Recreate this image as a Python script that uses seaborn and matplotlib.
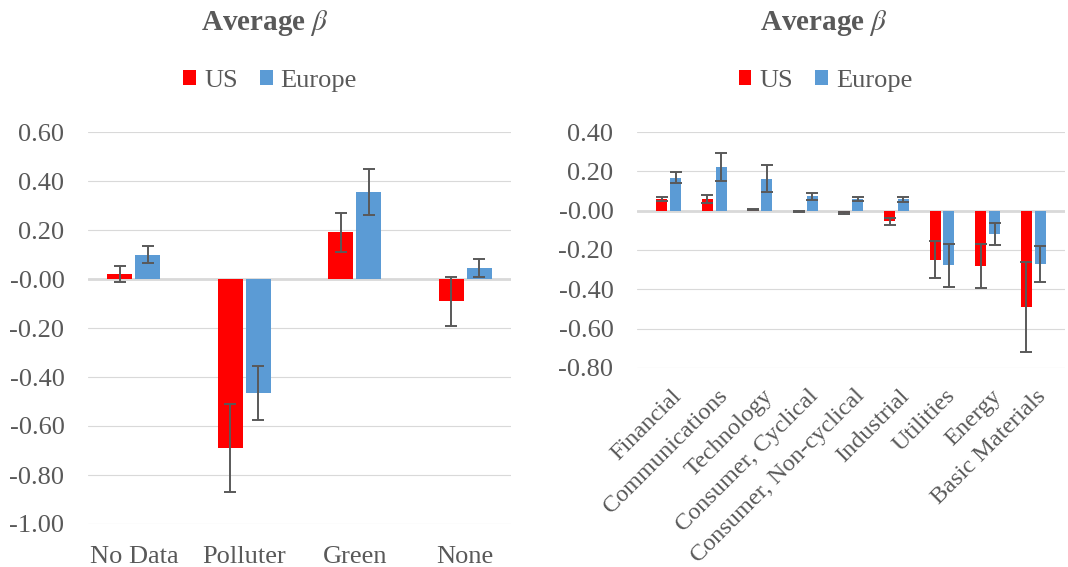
import numpy as np
import pandas as pd
import matplotlib
matplotlib.use("Agg")
import matplotlib.pyplot as plt
import matplotlib.transforms as mtransforms
from matplotlib.ticker import FormatStrFormatter
import seaborn as sns

# ---------------- data ----------------
groups = ["No Data", "Polluter", "Green", "None"]
us_groups = [0.02, -0.69, 0.19, -0.09]
us_groups_err = [0.032, 0.18, 0.078, 0.10]
eu_groups = [0.10, -0.465, 0.355, 0.045]
eu_groups_err = [0.035, 0.11, 0.094, 0.035]

sectors = ["Financial", "Communications", "Technology", "Consumer, Cyclical",
           "Consumer, Non-cyclical", "Industrial", "Utilities", "Energy",
           "Basic Materials"]
us_sectors = [0.06, 0.06, 0.004, -0.004, -0.012, -0.055, -0.25, -0.282, -0.489]
us_sectors_err = [0.012, 0.021, 0.002, 0.002, 0.003, 0.016, 0.094, 0.112, 0.23]
eu_sectors = [0.168, 0.224, 0.163, 0.073, 0.06, 0.057, -0.277, -0.12, -0.271]
eu_sectors_err = [0.027, 0.071, 0.07, 0.019, 0.012, 0.013, 0.11, 0.057, 0.09]

regions = ["US", "Europe"]
colors = {"US": "#FF0000", "Europe": "#5B9BD5"}
title_text = "Average $\\beta$"

# ---------------- style ----------------
sns.set_theme(style="white")
plt.rcParams["font.family"] = ["Liberation Serif", "DejaVu Serif"]
plt.rcParams["mathtext.fontset"] = "stix"
plt.rcParams["axes.unicode_minus"] = False
TXT = "#595959"
GRID = "#D9D9D9"

fig = plt.figure(figsize=(10.68, 5.67), dpi=100)
ax1 = fig.add_axes([88 / 1068, 1 - 524 / 567, 423 / 1068, 392 / 567])
ax2 = fig.add_axes([637 / 1068, 1 - 368 / 567, 428 / 1068, 236 / 567])


def draw(ax, cats, us, us_err, eu, eu_err, width, gap, ylim, fs=19):
    n = len(cats)
    df = pd.DataFrame({
        "cat": list(cats) * 2,
        "val": list(us) + list(eu),
        "err": list(us_err) + list(eu_err),
        "region": ["US"] * n + ["Europe"] * n,
    })
    sns.barplot(data=df, x="cat", y="val", hue="region", hue_order=regions,
                palette=colors, width=width, gap=gap, errorbar=None, ax=ax,
                saturation=1, linewidth=0, zorder=3)
    for container, region in zip(ax.containers, regions):
        sub = df[df.region == region]
        xs = [b.get_x() + b.get_width() / 2 for b in container]
        ax.errorbar(xs, sub.val.values, yerr=sub.err.values, fmt="none",
                    ecolor=TXT, elinewidth=1.4, capsize=4.5, capthick=1.4,
                    zorder=4)
    ax.set_ylim(*ylim)
    ax.set_yticks(np.arange(ylim[0], ylim[1] + 1e-9, 0.2))
    ax.yaxis.set_major_formatter(FormatStrFormatter("%.2f"))
    ax.yaxis.grid(True, color=GRID, lw=0.8)
    ax.set_axisbelow(True)
    ax.axhline(0, color=GRID, lw=2, zorder=2)
    for s in ax.spines.values():
        s.set_visible(False)
    ax.set_xlabel("")
    ax.set_ylabel("")
    ax.tick_params(axis="both", length=0, labelsize=fs, colors=TXT)
    ax.tick_params(axis="y", pad=17)
    handles, labels = ax.get_legend_handles_labels()
    if ax.get_legend() is not None:
        ax.get_legend().remove()
    return handles, labels


h1, l1 = draw(ax1, groups, us_groups, us_groups_err, eu_groups, eu_groups_err,
              width=0.51, gap=0.11, ylim=(-1.0, 0.6))
ax1.tick_params(axis="x", pad=16)

h2, l2 = draw(ax2, sectors, us_sectors, us_sectors_err, eu_sectors, eu_sectors_err,
              width=0.6, gap=0.2, ylim=(-0.8, 0.4))
ax2.tick_params(axis="x", pad=18, labelsize=17.5)
shift = mtransforms.ScaledTranslation(10 / 100, 0, fig.dpi_scale_trans)
for lab in ax2.get_xticklabels():
    lab.set_rotation(45)
    lab.set_ha("right")
    lab.set_va("center")
    lab.set_rotation_mode("anchor")
    lab.set_transform(lab.get_transform() + shift)

for cx, h, l in [(0.253, h1, l1), (0.773, h2, l2)]:
    fig.legend(h, l, loc="center", bbox_to_anchor=(cx, 1 - 81 / 567), ncol=2,
               frameon=False, fontsize=19, labelcolor=TXT, handlelength=0.48,
               handleheight=0.48, handletextpad=0.3, columnspacing=0.85,
               borderpad=0)

fig.text(0.248, 1 - 23 / 567, title_text, ha="center", va="center",
         fontsize=21, fontweight="bold", color=TXT)
fig.text(0.7715, 1 - 23 / 567, title_text, ha="center", va="center",
         fontsize=21, fontweight="bold", color=TXT)

fig.savefig("out.png", dpi=100)
